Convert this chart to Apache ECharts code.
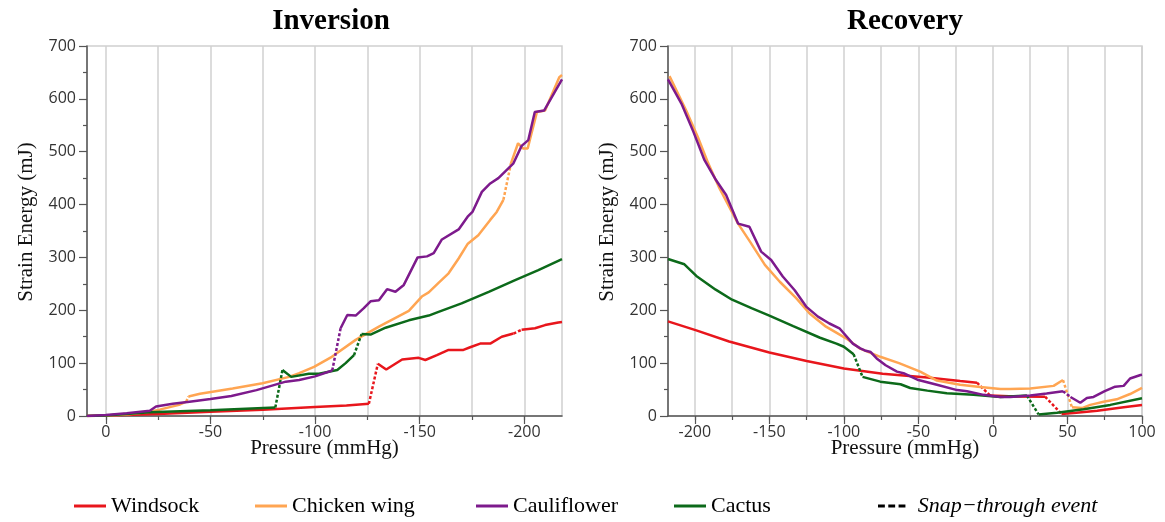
<!DOCTYPE html>
<html>
<head>
<meta charset="utf-8">
<script src="https://cdn.jsdelivr.net/npm/echarts@6/dist/echarts.min.js"></script>
<style>html,body{margin:0;padding:0;background:#fff}#c{width:1165px;height:522px}</style>
</head>
<body>
<div id="c"></div>
<script>
// ---------- data: [pressure (mmHg), strain energy (mJ)] ----------
// Inversion
const invWindsock = [
  [[9,0],[0,1],[-25,4],[-50,8],[-75,12],[-100,17],[-115,20],[-125.7,23]],
  [[-130,99],[-134,88],[-141.6,107],[-149.5,110],[-152.7,106],[-158.2,115],[-163.8,125],[-170.9,125],[-174.1,130],[-178.9,137],[-183.7,137],[-189.2,150],[-194.8,156]],
  [[-198.7,163],[-205.1,166],[-209.9,172],[-216.2,177],[-218,178]]
];
const invWindsockSnap = [[[-125.7,23],[-130,99]],[[-194.8,156],[-198.7,163]]];

const invChicken = [
  [[9,0],[0,1],[-10,3],[-21,8],[-25.7,12],[-35,21],[-38.4,27]],
  [[-39.5,37],[-45,42],[-49.5,45],[-60.6,52],[-74.9,62],[-87.6,74],[-92.4,81],[-99.5,93],[-108,112],[-119.4,144],[-130.5,169],[-144.8,199],[-151,226],[-154.3,234],[-159,252],[-163.8,270],[-168.6,298],[-173,326],[-178,342],[-183.7,371],[-186.8,386],[-190,409]],
  [[-193.6,478],[-197,516],[-199.5,506],[-201.6,506],[-206,575],[-209.9,578],[-216.7,641],[-218,645]]
];
const invChickenSnap = [[[-38.4,27],[-39.5,37]],[[-190,409],[-193.6,478]]];

const invCauli = [
  [[9,0],[0,2],[-10,5],[-21,10],[-24,18],[-32,23],[-40,27],[-50,32],[-60,38],[-72,49],[-86,65],[-92.4,68],[-100,75],[-108.2,86]],
  [[-112.2,166],[-115.4,191],[-119.4,190],[-123.3,204],[-126.5,217],[-130.5,219],[-134.4,240],[-138.4,235],[-142.4,248],[-149,300],[-153.5,302],[-156.7,308],[-160.6,334],[-168.6,353],[-172.9,377],[-175.2,386],[-179.7,424],[-183.7,440],[-187.6,450],[-194.8,478],[-198.7,511],[-201.9,522],[-205,575],[-209.5,578],[-218,637]]
];
const invCauliSnap = [[[-108.2,86],[-112.2,166]]];

const invCactus = [
  [[9,0],[0,1],[-21,7],[-50,11],[-81,16]],
  [[-84.4,87],[-88.6,74],[-97,80],[-101.9,80],[-110.6,87],[-114.6,100],[-118.6,115]],
  [[-122.2,155],[-126.5,154],[-133.7,167],[-144.8,181],[-154.3,190],[-159,197],[-170,213],[-183,235],[-195.6,257],[-206.7,276],[-218,297]]
];
const invCactusSnap = [[[-81,16],[-84.4,87]],[[-118.6,115],[-122.2,155]]];

// Recovery
const recWindsock = [
  [[-218,179],[-199,162],[-177,141],[-150,120],[-125,104],[-100,90],[-74,80],[-44,73],[-22,66],[-10.7,63]],
  [[-2,39],[15,37],[35,36.5]],
  [[46,4],[56,6],[70,10],[87.7,16.5],[100,21]]
];
const recWindsockSnap = [[[-10.7,63],[-2,39]],[[35,36.5],[46,4]]];

const recChicken = [
  [[-217,643],[-205.8,578],[-198,528],[-191,478],[-183.5,431],[-171,364],[-163,330],[-153,286],[-143,254],[-132,223],[-123,194],[-112,169],[-98.5,147],[-89.5,128],[-75.6,112],[-63,100],[-48.8,84],[-37.6,67],[-22,59],[-8.5,55],[5,51],[11.6,51],[25,52],[40.7,57],[47,68]],
  [[53,16.5],[59.7,15],[65.3,21],[74.2,27],[83,31.5],[92,41.6],[100,53]]
];
const recChickenSnap = [[[47,68],[53,16.5]]];

const recCauli = [
  [[-218,637],[-209,591],[-201,538],[-193.5,484],[-185.7,446],[-179,418],[-171,364],[-163.4,358],[-155.5,311],[-148.8,295],[-141,264],[-133,238],[-125.3,207],[-117.4,188],[-109.7,175],[-103,166],[-94,137],[-89,128],[-86,124],[-82,121],[-78,109],[-72,96],[-64.4,84],[-60,81],[-50,68],[-37.6,59],[-24,49],[-17.4,47],[-6.3,40],[5,36],[11.6,36],[25,38.6],[36,42.5],[47,47]],
  [[52,36],[58.6,25],[63,34],[67.5,36],[75,47],[82,55.5],[87.7,57],[92,71],[99,77.5],[100,78]]
];
const recCauliSnap = [[[47,47],[52,36]]];

const recCactus = [
  [[-218,297],[-207,287],[-199,265],[-186,239],[-175,220],[-162,204],[-150,190],[-134,170],[-116,148],[-105,137],[-100,131],[-93.5,117]],
  [[-87.5,74],[-75.6,65],[-62,60],[-55.5,53],[-44,48],[-31,43],[-13,40],[5,36],[22.8,38.6]],
  [[30.6,3],[43,6],[60.8,12.7],[78.7,21],[100,33.5]]
];
const recCactusSnap = [[[-93.5,117],[-87.5,74]],[[22.8,38.6],[30.6,3]]];

// tick values
const invLabelTicks = [0,-50,-100,-150,-200];
const invGridTicks = [0,-25,-50,-75,-100,-125,-150,-175,-200];
const recLabelTicks = [-200,-150,-100,-50,0,50,100];
const recGridTicks = [-200,-175,-150,-125,-100,-75,-50,-25,0,25,50,75,100];

const seriesNames = ['Windsock','Chicken wing','Cauliflower','Cactus'];
const snapName = 'Snap\u2212through event';
const titles = ['Inversion','Recovery'];

// ---------- styling ----------
const colors = {'Windsock':'#e8161c','Chicken wing':'#ffa552','Cauliflower':'#7d1a8c','Cactus':'#0c6a1a'};
const axisColor = '#555';
const serif = 'Liberation Serif';

function xMain(gi, min, max, inverse, gridVals, labelVals){
  return {type:'value', gridIndex:gi, min:min, max:max, inverse:inverse, position:'bottom',
    axisLine:{show:true, onZero:false, lineStyle:{color:axisColor, width:1.5}},
    axisTick:{show:true, customValues:gridVals, length:4, lineStyle:{color:axisColor, width:1.2}},
    axisLabel:{customValues:labelVals, color:'#333', fontFamily:'Open Sans', fontSize:16, margin:8},
    splitLine:{show:true, lineStyle:{color:'#d0d0d0', width:1.5}},
    name:'Pressure (mmHg)', nameLocation:'middle', nameGap:22, nameMoveOverlap:false,
    nameTextStyle:{fontFamily:serif, fontSize:21, color:'#111', verticalAlign:'top'}};
}
function xOverlay(gi, min, max, inverse, labelVals){
  return {type:'value', gridIndex:gi, min:min, max:max, inverse:inverse, position:'bottom',
    axisLine:{show:false, onZero:false},
    axisTick:{show:true, customValues:labelVals, length:8, lineStyle:{color:axisColor, width:1.2}},
    axisLabel:{show:false}, splitLine:{show:false}};
}
function yAxis(gi){
  return {type:'value', gridIndex:gi, min:0, max:700, interval:100,
    axisLine:{show:true, onZero:false, lineStyle:{color:axisColor, width:1.5}},
    axisTick:{show:true, length:8, lineStyle:{color:axisColor, width:1.2}},
    minorTick:{show:true, splitNumber:2, length:4, lineStyle:{color:axisColor, width:1.2}},
    axisLabel:{color:'#333', fontFamily:'Open Sans', fontSize:16, margin:11},
    splitLine:{show:false},
    name:'Strain Energy (mJ)', nameLocation:'middle', nameGap:50,
    nameTextStyle:{fontFamily:serif, fontSize:21, color:'#111', padding:[0,0,0,18]}};
}

const series = [];
function addCurve(gi, name, segs, snaps){
  const c = colors[name];
  segs.forEach(s => series.push({type:'line', name:name, xAxisIndex:gi, yAxisIndex:gi, data:s,
    symbol:'none', itemStyle:{color:c}, lineStyle:{color:c, width:2.5}, animation:false}));
  snaps.forEach(s => series.push({type:'line', name:name, xAxisIndex:gi, yAxisIndex:gi, data:s,
    symbol:'none', itemStyle:{color:c}, lineStyle:{color:c, width:2.5, type:[3,2]}, animation:false}));
}
addCurve(0,'Windsock',invWindsock,invWindsockSnap);
addCurve(0,'Chicken wing',invChicken,invChickenSnap);
addCurve(0,'Cactus',invCactus,invCactusSnap);
addCurve(0,'Cauliflower',invCauli,invCauliSnap);
addCurve(1,'Windsock',recWindsock,recWindsockSnap);
addCurve(1,'Chicken wing',recChicken,recChickenSnap);
addCurve(1,'Cactus',recCactus,recCactusSnap);
addCurve(1,'Cauliflower',recCauli,recCauliSnap);
series.push({type:'line', name:snapName, xAxisIndex:0, yAxisIndex:0, data:[], symbol:'none',
  itemStyle:{color:'#000'}, lineStyle:{color:'#000', type:'dashed'}});

const legendPos = [74, 255, 476, 674, 878];
const legendItems = seriesNames.concat([snapName]);
const legends = legendItems.map((n,i) => ({
  left:legendPos[i], top:495, padding:0, itemWidth:32, itemHeight:3, selectedMode:false,
  icon: n === snapName ? 'path://M0 0H8V3.5H0Z M12 0H20V3.5H12Z M24 0H32V3.5H24Z' : 'rect',
  itemStyle:{borderWidth:0},
  textStyle:{fontFamily:serif, fontSize:22, color:'#000'},
  data:[n === snapName ? {name:n, textStyle:{fontStyle:'italic', padding:[0,0,0,5]}} : {name:n}]
}));

const option = {
  animation:false,
  title:[
    {text:titles[0], left:331, top:7, padding:0, textAlign:'center', textStyle:{fontFamily:serif, fontWeight:'bold', fontSize:29, color:'#000'}},
    {text:titles[1], left:905, top:7, padding:0, textAlign:'center', textStyle:{fontFamily:serif, fontWeight:'bold', fontSize:29, color:'#000'}}
  ],
  legend:legends,
  grid:[
    {left:87, top:46, width:475, height:370, show:true, borderColor:'#cfcfcf', borderWidth:1.5},
    {left:668, top:46, width:474, height:370, show:true, borderColor:'#cfcfcf', borderWidth:1.5}
  ],
  xAxis:[
    xMain(0,-218,9,true,invGridTicks,invLabelTicks),
    xMain(1,-218,100,false,recGridTicks,recLabelTicks),
    xOverlay(0,-218,9,true,invLabelTicks),
    xOverlay(1,-218,100,false,recLabelTicks)
  ],
  yAxis:[yAxis(0), yAxis(1)],
  series:series
};
const chart = echarts.init(document.getElementById('c'));
chart.setOption(option);
</script>
</body>
</html>
